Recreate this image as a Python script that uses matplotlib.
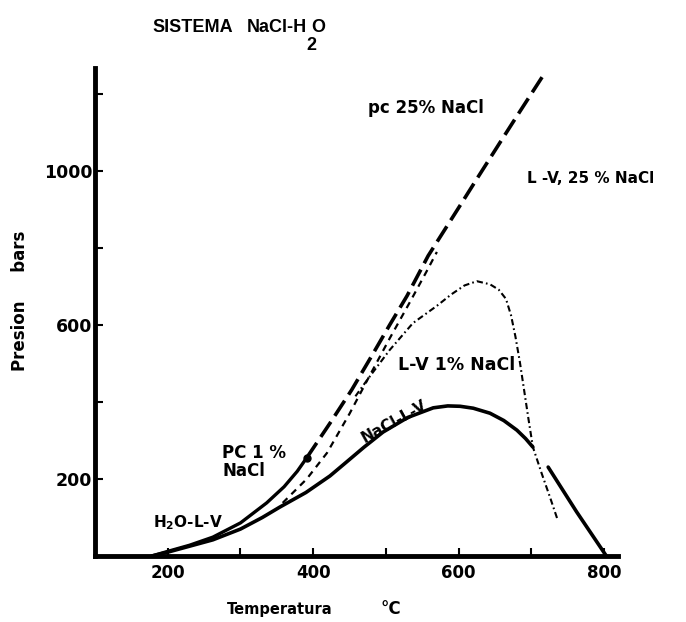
import matplotlib
matplotlib.use("Agg")
import matplotlib.pyplot as plt
from matplotlib import font_manager

# H2O liquid-vapour curve up to the 1% NaCl critical point
h2o_T = [178, 200, 230, 262, 300, 336, 360, 378, 391]
h2o_P = [0, 12, 28, 49, 86, 138, 180, 220, 255]

# NaCl-L-V (halite + liquid + vapour), two pieces
nacl_T1 = [178, 200, 262, 300, 330, 354, 390, 423, 445, 470, 496, 530, 565, 585,
           602, 620, 643, 662, 680, 692, 702]
nacl_P1 = [0, 10, 42, 70, 100, 127, 165, 208, 243, 283, 322, 360, 385, 390,
           389, 384, 371, 352, 327, 305, 283]
nacl_T2 = [723, 762, 803]
nacl_P2 = [231, 115, 0]

# critical curve, heavy dashes (PC 1% -> pc 25%)
crit_T = [391, 423, 453, 482, 505, 529, 558, 602, 625, 657, 680, 719]
crit_P = [255, 345, 432, 525, 600, 676, 780, 911, 980, 1075, 1143, 1257]

# fine dashed curve
fine_T = [358, 391, 419, 450, 478, 505, 533, 556, 570]
fine_P = [138, 200, 268, 370, 470, 565, 660, 740, 790]

# L-V 1% NaCl, dash-dot
lv1_T = [458, 474, 505, 537, 570, 590, 608, 625, 643, 655, 665, 672, 678, 684,
         690, 696, 702, 714, 726, 736]
lv1_P = [415, 457, 535, 605, 650, 680, 703, 714, 706, 692, 668, 625, 570, 505,
         430, 355, 283, 215, 150, 94]

x_ticks = [200, 300, 400, 500, 600, 700, 800]
x_labels = ["200", "", "400", "", "600", "", "800"]
y_ticks = [200, 400, 600, 800, 1000, 1200]
y_labels = ["200", "", "600", "", "1000", ""]

plt.rcParams["font.family"] = "DejaVu Sans"
plt.rcParams["font.weight"] = "bold"

installed = {f.name for f in font_manager.fontManager.ttflist}
title_font = "Liberation Sans Narrow" if "Liberation Sans Narrow" in installed else "Liberation Sans"

fig = plt.figure(figsize=(6.86, 6.22), dpi=100)
ax = fig.add_axes([95 / 686, 1 - 556 / 622, 523 / 686, 488 / 622])

ax.plot(h2o_T, h2o_P, color="black", lw=2.4, solid_capstyle="round")
ax.plot(nacl_T1, nacl_P1, color="black", lw=2.6, solid_capstyle="round")
ax.plot(nacl_T2, nacl_P2, color="black", lw=2.6, solid_capstyle="round")
ax.plot(crit_T, crit_P, color="black", lw=2.6, dashes=(5, 2))
ax.plot(fine_T, fine_P, color="black", lw=1.6, dashes=(3, 2.5))
ax.plot(lv1_T, lv1_P, color="black", lw=1.5, dashes=(3, 1.5, 0.8, 1.5))
ax.plot([h2o_T[-1]], [h2o_P[-1]], "o", color="black", ms=5)

ax.set_xlim(100, 819)
ax.set_ylim(0, 1268)
ax.set_xticks(x_ticks)
ax.set_xticklabels(x_labels)
ax.set_yticks(y_ticks)
ax.set_yticklabels(y_labels)
ax.tick_params(direction="in", length=6, width=1.5)
ax.tick_params(axis="x", labelsize=12, pad=6)
ax.tick_params(axis="y", labelsize=12.5, pad=2)
for s in ["top", "right"]:
    ax.spines[s].set_visible(False)
for s in ["left", "bottom"]:
    ax.spines[s].set_linewidth(3.5)

# curve labels
ax.text(475, 1151, "pc 25% NaCl", fontsize=12, va="baseline")
ax.text(694, 969, "L -V, 25 % NaCl", fontsize=11, va="baseline")
ax.text(516, 483, "L-V 1% NaCl", fontsize=12.5, va="baseline")
ax.text(511, 350, "NaCl-L-V", fontsize=11, ha="center", va="center",
        rotation=29, rotation_mode="anchor")
ax.text(275, 290, "PC 1 %\nNaCl", fontsize=12, va="top", linespacing=1.0)
ax.text(180, 75, r"H$_{\mathbf{2}}$O-L-V", fontsize=11, va="baseline")

# title and axis labels
fig.text(152 / 686, 1 - 32 / 622, "SISTEMA", fontsize=13, va="baseline",
         family=title_font)
fig.text(247 / 686, 1 - 32 / 622, "NaCl-H", fontsize=13, va="baseline",
         family=title_font)
fig.text(311 / 686, 1 - 32 / 622, "O", fontsize=13, va="baseline",
         family=title_font)
fig.text(311 / 686, 1 - 50 / 622, "2", fontsize=13, va="baseline", ha="center",
         family=title_font)
fig.text(227 / 686, 1 - 614 / 622, "Temperatura", fontsize=10.5, va="baseline")
fig.text(380 / 686, 1 - 614 / 622, "°C", fontsize=12, va="baseline")
fig.text(20 / 686, 1 - 301 / 622, "Presion     bars", fontsize=12, rotation=90,
         ha="center", va="center")

plt.savefig("out.png", dpi=100)
